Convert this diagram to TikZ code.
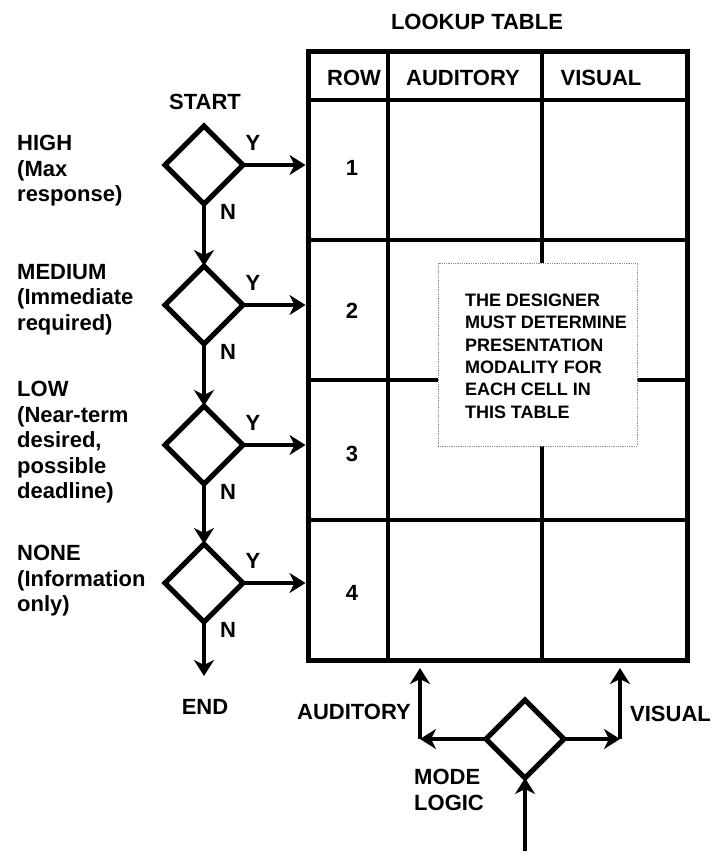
\documentclass[tikz,border=0pt]{standalone}
\usepackage{fontspec}
\setmainfont{Liberation Sans}
\usetikzlibrary{shapes.geometric,arrows.meta,positioning,calc}
\tikzstyle{decision}=[diamond, draw, line width=5pt, minimum width=78pt, minimum height=78pt, inner sep=0pt, outer sep=0pt]

\begin{document}
\begin{tikzpicture}[x=1pt,y=-1pt,font=\fontsize{22}{25.5}\selectfont\bfseries,
  flow/.style={line width=3.5pt,-{Stealth[length=16pt,width=20pt,inset=5pt]}},
  grid/.style={line width=4pt},
  lbl/.style={anchor=north west,align=left,inner sep=0pt}]
\useasboundingbox (0,0) rectangle (714,851);

% lookup table
\node (title) at (477,22) {LOOKUP TABLE};
\node (tbl) at (497.5,356)[draw,line width=5pt,minimum width=379pt,minimum height=608pt,inner sep=0pt,outer sep=0pt] {};
\foreach \y in {100,240,380,520}
  \draw[grid] (tbl.west |- 0,\y) -- (tbl.east |- 0,\y);
\foreach \x in {388,542}
  \draw[grid] (tbl.north -| \x,0) -- (tbl.south -| \x,0);
\node (hrow) at (354,78) {ROW};
\node (haud) at (463,78) {AUDITORY};
\node (hvis) at (601,78) {VISUAL};
\foreach \n/\y in {1/168,2/311,3/454,4/593}
  \node (row\n) at (352,\y) {\n};
\node (note) at (537.5,354.5)[draw=black!45,densely dotted,line width=0.8pt,fill=white,minimum width=199pt,minimum height=183pt,inner sep=0pt] {};
\node (notetext) at (546,356)[align=left,font=\fontsize{18}{22.4}\selectfont\bfseries] {THE DESIGNER\\MUST DETERMINE\\PRESENTATION\\MODALITY FOR\\EACH CELL IN\\THIS TABLE};

% priority chain
\node (start) at (205,102) {START};
\node (d1) at (204,165)[decision] {};
\node (d2) at (204,305)[decision] {};
\node (d3) at (204,445)[decision] {};
\node (d4) at (204,583)[decision] {};
\coordinate (stop) at (204,676);
\node (end) at (205,707) {END};

\node (high) at (17,135)[lbl] {HIGH\\(Max\\response)};
\node (medium) at (17,264)[lbl] {MEDIUM\\(Immediate\\required)};
\node (low) at (17,381)[lbl] {LOW\\(Near-term\\desired,\\possible\\deadline)};
\node (none) at (17,545)[lbl] {NONE\\(Information\\only)};

\foreach \i in {1,...,4}{
  \draw[flow,shorten >=2.5pt] (d\i.east) -- (d\i.east -| tbl.west);
  \node (y\i) at ([shift={(10,-22)}]d\i.east) {Y};
  \node (n\i) at ([shift={(24,8)}]d\i.south) {N};
}
\foreach \i/\j in {1/2,2/3,3/4}
  \draw[flow] (d\i.south) -- (d\j.north);
\draw[flow] (d4.south) -- (stop);

% mode logic
\node (mode) at (525,739)[decision] {};
\coordinate (audturn) at (420,739);
\coordinate (visturn) at (620,739);
\coordinate (modein) at (525,851);
\draw[flow] (mode.west) -- (audturn);
\draw[flow] (mode.east) -- (visturn);
\draw[flow,shorten >=8pt] (audturn) -- (audturn |- tbl.south);
\draw[flow,shorten >=8pt] (visturn) -- (visturn |- tbl.south);
\draw[flow] (modein) -- (mode.south);
\node (audlbl) at (411,712)[anchor=east,inner sep=0pt] {AUDITORY};
\node (vislbl) at (630,714)[anchor=west,inner sep=0pt] {VISUAL};
\node (modelbl) at (414,769)[lbl] {MODE\\LOGIC};
\end{tikzpicture}
\end{document}
